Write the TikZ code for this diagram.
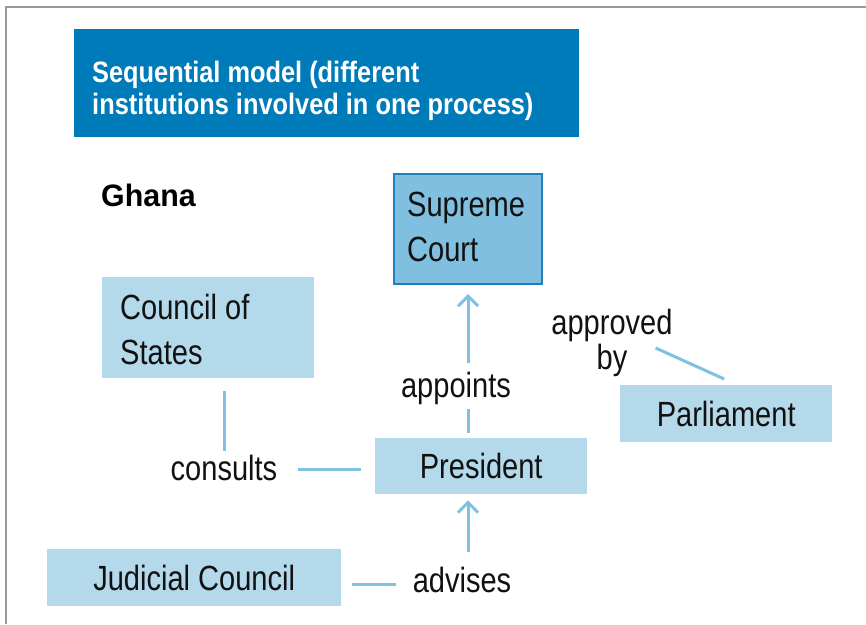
\documentclass[tikz,border=0pt]{standalone}
\usepackage{fontspec}
\setmainfont{Liberation Sans}[FakeStretch=0.83]
\newfontfamily\titlefont{Liberation Sans}[FakeStretch=0.86]
\newfontfamily\ghanafont{Liberation Sans}[FakeStretch=0.98]
\usetikzlibrary{arrows.meta,calc}
\definecolor{titleblue}{HTML}{007BBA}
\definecolor{lightbox}{HTML}{B3D9EA}
\definecolor{midbox}{HTML}{80BFDF}
\definecolor{boxborder}{HTML}{1F80BF}
\definecolor{lineblue}{HTML}{80C0E0}
\definecolor{framegray}{HTML}{9A9A9A}
\definecolor{textblack}{HTML}{111111}
\tikzset{
  lbox/.style={fill=lightbox, draw=none, inner sep=0pt, text=textblack,
    font=\fontsize{35}{40}\selectfont},
  txt/.style={inner sep=0pt, text=textblack, font=\fontsize{35}{40}\selectfont},
  conn/.style={draw=lineblue, line width=3pt},
  arr/.style={conn, -{Straight Barb[length=10pt,width=20pt]}},
}
\begin{document}
\begin{tikzpicture}[x=1pt,y=-1pt]
\useasboundingbox (0,0) rectangle (866,624);
% frame
\draw[framegray, line width=2.5pt] (6,624) -- (6,7) -- (866,7);
% title
\node[fill=titleblue, inner sep=0pt, minimum width=505pt, minimum height=108pt, anchor=north west] (titlebox) at (74,29) {};
\node[anchor=base west, inner sep=0pt, text=white, font=\titlefont\bfseries\fontsize{29.5}{33}\selectfont] (title1) at (92,82) {Sequential model (different};
\node[anchor=base west, inner sep=0pt, text=white, font=\titlefont\bfseries\fontsize{29.5}{33}\selectfont] (title2) at (92,114) {institutions involved in one process)};
% Ghana
\node[anchor=base west, inner sep=0pt, text=black, font=\ghanafont\bfseries\fontsize{31}{35}\selectfont] (ghana) at (101,206) {Ghana};
% Supreme Court
\node[fill=midbox, draw=boxborder, line width=2pt, inner sep=0pt, minimum width=148pt, minimum height=110pt, anchor=north west] (sc) at (393,173) {};
\node[txt, anchor=base west] (sc1) at (407,216) {Supreme};
\node[txt, anchor=base west] (sc2) at (407,261) {Court};
% Council of States
\node[lbox, minimum width=212pt, minimum height=101pt, anchor=north west] (cs) at (102,277) {};
\node[txt, anchor=base west] (cs1) at (120,319) {Council of};
\node[txt, anchor=base west] (cs2) at (120,364) {States};
% Parliament
\node[lbox, minimum width=212pt, minimum height=57pt, anchor=north west] (parl) at (620,385) {Parliament};
% President
\node[lbox, minimum width=212pt, minimum height=56pt, anchor=north west] (pres) at (375,438) {President};
% Judicial Council
\node[lbox, minimum width=294pt, minimum height=57pt, anchor=north west] (jc) at (47,549) {Judicial Council};
% labels
\node[txt, anchor=base] (appoints) at (456,397) {appoints};
\node[txt, anchor=base] (approved) at (612,334) {approved};
\node[txt, anchor=base] (by) at (612,369) {by};
\node[txt, anchor=base] (consults) at (224,480) {consults};
\node[txt, anchor=base] (advises) at (462,592) {advises};
% connectors
\draw[conn, shorten <=5pt, shorten >=5pt] (pres.north -| sc.south) -- (appoints.south -| sc.south);
\draw[arr, shorten <=8pt, shorten >=9pt] (appoints.north -| sc.south) -- (sc.south);
\draw[arr, shorten <=14pt, shorten >=6pt] (advises.north -| sc.south) -- (pres.south -| sc.south);
\coordinate (pw) at ([yshift=-3pt]pres.west);
\draw[conn] ([xshift=-14pt]pw) -- ([xshift=21pt]consults.east |- pw);
\draw[conn, shorten <=13pt, shorten >=3pt] (consults.north |- cs.south) -- (consults.north);
\coordinate (je) at ([yshift=-6.5pt]jc.east);
\draw[conn] ([xshift=11pt]je) -- ([xshift=-17pt]advises.west |- je);
\draw[conn] ([xshift=-2pt,yshift=6pt]parl.north) -- ([xshift=28pt,yshift=12pt]by.east);
\end{tikzpicture}
\end{document}
